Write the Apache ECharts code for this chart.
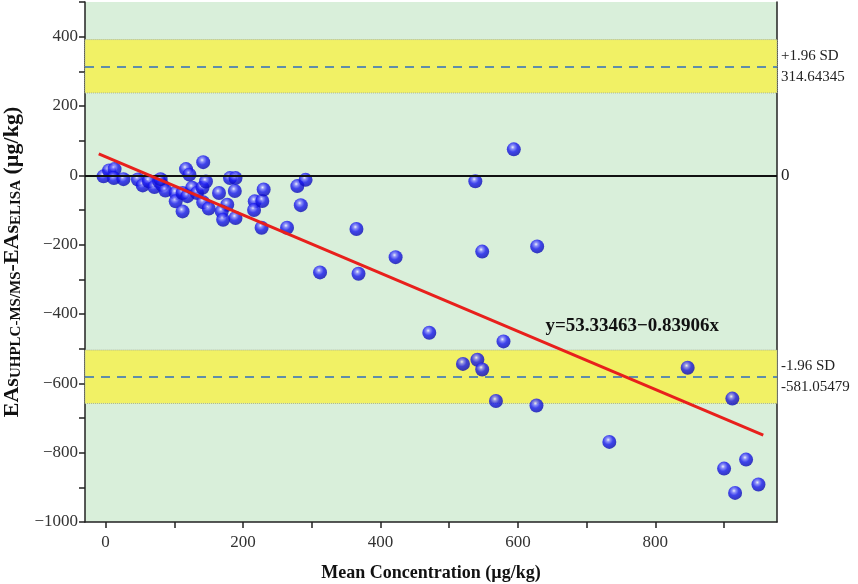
<!DOCTYPE html>
<html>
<head>
<meta charset="utf-8">
<script src="https://cdn.jsdelivr.net/npm/echarts@6/dist/echarts.min.js"></script>
<style>
  html, body { margin: 0; padding: 0; background: #fff; }
  #chart { width: 858px; height: 584px; }
</style>
</head>
<body>
<div id="chart"></div>
<script>
// mean concentration (x) vs difference (y)
var xs = [-3, 5, 13, 12, 26, 47, 54, 63, 71, 78, 82, 87, 102, 102, 112, 112, 117, 122, 119, 126,
  133, 141, 142, 146, 142, 150, 165, 181, 189, 188, 177, 169, 171, 189, 217, 216, 228, 230, 227, 264,
  279, 291, 284, 312, 365, 368, 422, 471, 538, 594, 548, 628, 579, 520, 541, 548, 568, 627, 847, 733,
  912, 932, 900, 950, 916, 80];
var ys = [-3, 14, 18, -8, -11, -12, -29, -17, -34, -18, -27, -44, -51, -75, -104, -51, 18, 2, -60, -36,
  -51, -36, 38, -18, -78, -96, -51, -8, -8, -45, -85, -104, -128, -123, -75, -100, -74, -41, -151, -151,
  -31, -13, -86, -280, -155, -284, -236, -454, -17, 75, -220, -205, -479, -544, -532, -560, -651, -664, -555, -769,
  -644, -820, -846, -892, -916, -11];

var upperLoA = 314.64345;
var lowerLoA = -581.05479;
var ciHalf = 77;
var fitA = 53.33463, fitB = -0.83906;
var fitRange = [-10, 957];

var xLabels = [0, 200, 400, 600, 800];
var xTicks = [0, 100, 200, 300, 400, 500, 600, 700, 800, 900];

var serif = '"Liberation Serif", "Times New Roman", serif';
var pts = xs.map(function (x, i) { return [x, ys[i]]; });
var fitLine = fitRange.map(function (x) { return [x, fitA + fitB * x]; });

var myChart = echarts.init(document.getElementById('chart'));
var option = {
  animation: false,
  grid: {
    left: 85, right: 81, top: 2, bottom: 62,
    outerBoundsMode: 'none', containLabel: false,
    show: true, backgroundColor: '#d9efda', borderWidth: 0
  },
  xAxis: {
    type: 'value', min: -30, max: 977,
    name: 'Mean Concentration (µg/kg)',
    nameLocation: 'middle', nameGap: 42,
    nameTextStyle: { fontFamily: serif, fontWeight: 'bold', fontSize: 18, color: '#111' },
    axisLine: { onZero: false, lineStyle: { color: '#222', width: 1.5 } },
    axisTick: { customValues: xTicks, length: 6, lineStyle: { color: '#222', width: 1.5 } },
    axisLabel: { customValues: xLabels, fontFamily: serif, fontSize: 17, color: '#333', margin: 12 },
    splitLine: { show: false }
  },
  yAxis: [{
    type: 'value', min: -1000, max: 500, interval: 100,
    name: '{b|EAs}{s|UHPLC-MS/MS}{b|-EAs}{s|ELISA}{b| (µg/kg)}',
    nameLocation: 'middle', nameGap: 57,
    nameTextStyle: {
      rich: {
        b: { fontFamily: serif, fontWeight: 'bold', fontSize: 22, color: '#111', lineHeight: 26, verticalAlign: 'bottom' },
        s: { fontFamily: serif, fontWeight: 'bold', fontSize: 15, color: '#111', lineHeight: 26, verticalAlign: 'bottom', padding: [9, 0, 0, 0] }
      }
    },
    axisLine: { show: true, onZero: false, lineStyle: { color: '#222', width: 1.5 } },
    axisTick: { length: 6, lineStyle: { color: '#222', width: 1.5 } },
    axisLabel: {
      fontFamily: serif, fontSize: 17, color: '#333', margin: 7,
      formatter: function (v) {
        if (v % 200 !== 0 || v >= 500) return '';
        return String(v).replace('-', '\u2212');
      }
    },
    splitLine: { show: false }
  }, {
    type: 'value', min: -1000, max: 500, position: 'right',
    axisLine: { show: true, onZero: false, lineStyle: { color: '#222', width: 1.5 } },
    axisTick: { show: false }, axisLabel: { show: false }, splitLine: { show: false }
  }],
  series: [
    {
      type: 'scatter',
      data: pts,
      symbolSize: 14,
      z: 3,
      itemStyle: {
        color: {
          type: 'radial', x: 0.42, y: 0.35, r: 0.75,
          colorStops: [
            { offset: 0, color: '#f2f2ff' },
            { offset: 0.18, color: '#7a7aff' },
            { offset: 0.45, color: '#1818f0' },
            { offset: 1, color: '#0606a0' }
          ]
        }
      },
      markArea: {
        silent: true,
        itemStyle: { color: '#f1f165', borderColor: '#a9b59a', borderWidth: 1, borderType: 'dotted' },
        data: [
          [{ yAxis: upperLoA - ciHalf }, { yAxis: upperLoA + ciHalf }],
          [{ yAxis: lowerLoA - ciHalf }, { yAxis: lowerLoA + ciHalf }]
        ]
      },
      markLine: {
        silent: true, symbol: 'none',
        label: { position: 'end', distance: 4, fontFamily: serif, fontSize: 15, color: '#222', lineHeight: 21 },
        data: [
          { yAxis: 0, lineStyle: { color: '#111', width: 2, type: 'solid' }, label: { formatter: '0', fontSize: 17 } },
          { yAxis: upperLoA, lineStyle: { color: '#2f6cc0', width: 1.6, type: [9, 7] }, label: { formatter: '+1.96 SD\n' + upperLoA.toFixed(5) } },
          { yAxis: lowerLoA, lineStyle: { color: '#2f6cc0', width: 1.6, type: [9, 7] }, label: { formatter: '-1.96 SD\n' + lowerLoA.toFixed(5) } }
        ]
      }
    },
    {
      type: 'line',
      data: fitLine,
      symbol: 'none',
      z: 5,
      lineStyle: { color: '#e8201c', width: 3 },
      markPoint: {
        symbol: 'circle', symbolSize: 0,
        label: {
          show: true, position: 'right', distance: 0,
          formatter: 'y=53.33463\u22120.83906x',
          fontFamily: serif, fontWeight: 'bold', fontSize: 19, color: '#111'
        },
        data: [{ coord: [640, -434] }]
      }
    }
  ]
};
myChart.setOption(option);
window.onresize = myChart.resize;
</script>
</body>
</html>
